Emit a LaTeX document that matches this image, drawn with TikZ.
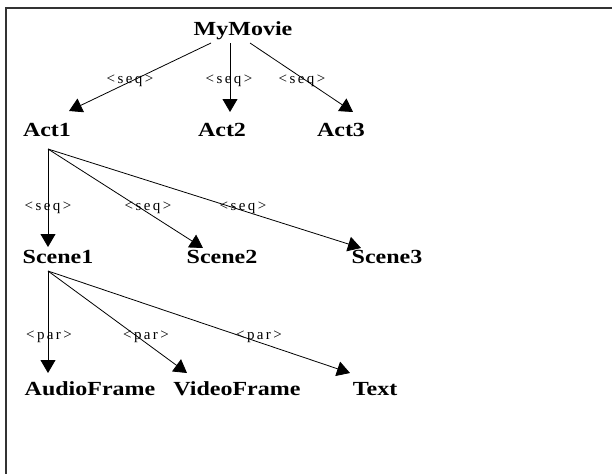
\documentclass[tikz,border=0pt]{standalone}
\usepackage{fontspec}
\usepackage{graphicx}
\setmainfont{Liberation Serif}
\newfontfamily\relfont[LetterSpace=16]{Liberation Serif}
\usetikzlibrary{arrows.meta}
\newcommand{\wide}[1]{\scalebox{1.2}[1]{#1}}
\tikzset{
  term/.style={anchor=base, inner sep=0pt, font=\bfseries\fontsize{20}{20}\selectfont},
  rel/.style={inner sep=0pt, font=\relfont\fontsize{15}{15}\selectfont},
  arr/.style={-{Triangle[width=15pt,length=13pt]}, line width=0.8pt},
  frame/.style={draw=black!80, line width=2pt}
}
\begin{document}
\begin{tikzpicture}[x=1pt,y=-1pt]
\useasboundingbox (0,0) rectangle (612,474);
\fill[white] (0,0) rectangle (612,474);
% frame: only its top and left edges lie on the page
\draw[frame] (612,8) -- (6,8) -- (6,474);

% tree nodes
\node[term] (mymovie) at (243,35) {\wide{MyMovie}};
\node[term] (act1) at (47,136) {\wide{Act1}};
\node[term] (act2) at (222,136) {\wide{Act2}};
\node[term] (act3) at (341,136) {\wide{Act3}};
\node[term] (scene1) at (58,263) {\wide{Scene1}};
\node[term] (scene2) at (222,263) {\wide{Scene2}};
\node[term] (scene3) at (387,263) {\wide{Scene3}};
\node[term] (audio) at (90,395) {\wide{AudioFrame}};
\node[term] (video) at (237,395) {\wide{VideoFrame}};
\node[term] (text) at (375,395) {\wide{Text}};

% connector ports
\coordinate (mm-l) at ([shift={(-32,8)}]mymovie.base);
\coordinate (mm-m) at ([shift={(-13,8)}]mymovie.base);
\coordinate (mm-r) at ([shift={(7,8)}]mymovie.base);
\coordinate (act1-in) at ([shift={(22,-25)}]act1.base);
\coordinate (act2-in) at ([shift={(8,-24)}]act2.base);
\coordinate (act3-in) at ([shift={(12,-24)}]act3.base);
\coordinate (act1-out) at ([shift={(1,13)}]act1.base);
\coordinate (scene1-in) at ([shift={(-10,-16)}]scene1.base);
\coordinate (scene2-in) at ([shift={(-19,-15)}]scene2.base);
\coordinate (scene3-in) at ([shift={(-26,-15)}]scene3.base);
\coordinate (scene1-out) at ([shift={(-10,8)}]scene1.base);
\coordinate (audio-in) at ([shift={(-42,-22)}]audio.base);
\coordinate (video-in) at ([shift={(-50,-22)}]video.base);
\coordinate (text-in) at ([shift={(-25,-22)}]text.base);

% connectors
\draw[arr] (mm-l) -- (act1-in);
\draw[arr] (mm-m) -- (act2-in);
\draw[arr] (mm-r) -- (act3-in);
\draw[arr] (act1-out) -- (scene1-in);
\draw[arr] (act1-out) -- (scene2-in);
\draw[arr] (act1-out) -- (scene3-in);
\draw[arr] (scene1-out) -- (audio-in);
\draw[arr] (scene1-out) -- (video-in);
\draw[arr] (scene1-out) -- (text-in);

% connector labels
\node[rel] (l1) at (130,81) {<seq>};
\node[rel] (l2) at (229,81) {<seq>};
\node[rel] (l3) at (302,81) {<seq>};
\node[rel] (l4) at (48,208) {<seq>};
\node[rel] (l5) at (148,208) {<seq>};
\node[rel] (l6) at (243,208) {<seq>};
\node[rel] (l7) at (49,337) {<par>};
\node[rel] (l8) at (146,337) {<par>};
\node[rel] (l9) at (259,337) {<par>};
\end{tikzpicture}
\end{document}
